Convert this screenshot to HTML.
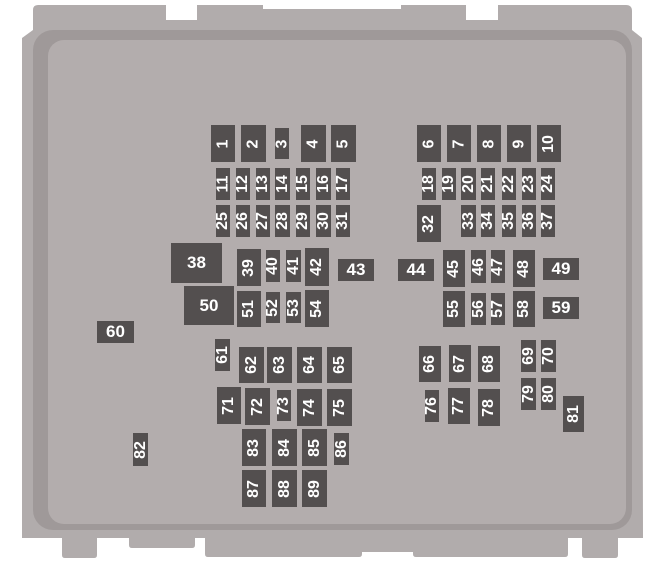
<!DOCTYPE html>
<html><head><style>
body{margin:0;background:#fff;width:659px;height:574px;overflow:hidden;position:relative;font-family:"Liberation Sans",sans-serif}
.f{position:absolute;background:#534f4f;color:#fff;font-weight:bold;font-size:16px;display:flex;align-items:center;justify-content:center}
.f span{display:block;transform:rotate(-90deg);white-space:nowrap}
.h span{transform:none;font-size:17px}
</style></head><body>
<svg width="659" height="574" style="position:absolute;left:0;top:0">
<path fill="#b1acac" d="M38,5 L166,5 L166,20 L197,20 L197,5 L263,5 L263,9 L401,9 L401,5 L466,5 L466,20 L498,20 L498,5 L626,5 Q632,5 632,11 L632,30 L642,38 L643,538 L22,538 L22,38 L33,30 L33,10 Q33,5 38,5 Z"/>
<path fill="#b1acac" d="M62,535 L97,535 L97,555 Q97,558 94,558 L65,558 Q62,558 62,555 Z M129,535 L195,535 L195,545 Q195,548 192,548 L132,548 Q129,548 129,545 Z M205,535 L362,535 L362,554 Q362,557 359,557 L208,557 Q205,557 205,554 Z M362,535 L413,535 L413,552 L362,552 Z M413,535 L568,535 L568,554 Q568,557 565,557 L416,557 Q413,557 413,554 Z M582,535 L618,535 L618,555 Q618,558 615,558 L585,558 Q582,558 582,555 Z"/>
<rect x="33" y="30" width="599" height="500" rx="20" fill="#9f9999"/>
<rect x="48" y="40" width="578" height="484" rx="16" fill="#b3adad"/>
</svg>
<div class="f" style="left:211px;top:125px;width:24px;height:37px"><span>1</span></div>
<div class="f" style="left:241px;top:125px;width:25px;height:37px"><span>2</span></div>
<div class="f" style="left:275px;top:128px;width:14px;height:31px"><span>3</span></div>
<div class="f" style="left:301px;top:125px;width:25px;height:37px"><span>4</span></div>
<div class="f" style="left:331px;top:125px;width:25px;height:37px"><span>5</span></div>
<div class="f" style="left:216px;top:168px;width:14px;height:32px"><span>11</span></div>
<div class="f" style="left:236px;top:168px;width:14px;height:32px"><span>12</span></div>
<div class="f" style="left:256px;top:168px;width:14px;height:32px"><span>13</span></div>
<div class="f" style="left:275px;top:168px;width:15px;height:32px"><span>14</span></div>
<div class="f" style="left:296px;top:168px;width:14px;height:32px"><span>15</span></div>
<div class="f" style="left:316px;top:168px;width:15px;height:32px"><span>16</span></div>
<div class="f" style="left:336px;top:168px;width:14px;height:32px"><span>17</span></div>
<div class="f" style="left:216px;top:205px;width:14px;height:32px"><span>25</span></div>
<div class="f" style="left:236px;top:205px;width:14px;height:32px"><span>26</span></div>
<div class="f" style="left:256px;top:205px;width:14px;height:32px"><span>27</span></div>
<div class="f" style="left:275px;top:205px;width:15px;height:32px"><span>28</span></div>
<div class="f" style="left:296px;top:205px;width:14px;height:32px"><span>29</span></div>
<div class="f" style="left:316px;top:205px;width:15px;height:32px"><span>30</span></div>
<div class="f" style="left:336px;top:205px;width:14px;height:32px"><span>31</span></div>
<div class="f h" style="left:171px;top:243px;width:51px;height:40px"><span>38</span></div>
<div class="f" style="left:237px;top:249px;width:24px;height:37px"><span>39</span></div>
<div class="f" style="left:266px;top:250px;width:14px;height:32px"><span>40</span></div>
<div class="f" style="left:286px;top:250px;width:15px;height:32px"><span>41</span></div>
<div class="f" style="left:305px;top:248px;width:24px;height:38px"><span>42</span></div>
<div class="f h" style="left:338px;top:259px;width:36px;height:22px"><span>43</span></div>
<div class="f h" style="left:184px;top:286px;width:50px;height:39px"><span>50</span></div>
<div class="f" style="left:237px;top:291px;width:24px;height:36px"><span>51</span></div>
<div class="f" style="left:266px;top:292px;width:14px;height:31px"><span>52</span></div>
<div class="f" style="left:286px;top:292px;width:15px;height:31px"><span>53</span></div>
<div class="f" style="left:305px;top:290px;width:24px;height:37px"><span>54</span></div>
<div class="f" style="left:417px;top:125px;width:24px;height:37px"><span>6</span></div>
<div class="f" style="left:447px;top:125px;width:24px;height:37px"><span>7</span></div>
<div class="f" style="left:477px;top:125px;width:24px;height:37px"><span>8</span></div>
<div class="f" style="left:507px;top:125px;width:24px;height:37px"><span>9</span></div>
<div class="f" style="left:537px;top:125px;width:24px;height:37px"><span>10</span></div>
<div class="f" style="left:422px;top:168px;width:14px;height:32px"><span>18</span></div>
<div class="f" style="left:442px;top:168px;width:14px;height:32px"><span>19</span></div>
<div class="f" style="left:461px;top:168px;width:15px;height:32px"><span>20</span></div>
<div class="f" style="left:481px;top:168px;width:14px;height:32px"><span>21</span></div>
<div class="f" style="left:502px;top:168px;width:14px;height:32px"><span>22</span></div>
<div class="f" style="left:522px;top:168px;width:14px;height:32px"><span>23</span></div>
<div class="f" style="left:541px;top:168px;width:14px;height:32px"><span>24</span></div>
<div class="f" style="left:417px;top:205px;width:24px;height:37px"><span>32</span></div>
<div class="f" style="left:461px;top:205px;width:15px;height:32px"><span>33</span></div>
<div class="f" style="left:481px;top:205px;width:14px;height:32px"><span>34</span></div>
<div class="f" style="left:502px;top:205px;width:14px;height:32px"><span>35</span></div>
<div class="f" style="left:522px;top:205px;width:14px;height:32px"><span>36</span></div>
<div class="f" style="left:541px;top:205px;width:14px;height:32px"><span>37</span></div>
<div class="f h" style="left:398px;top:259px;width:36px;height:22px"><span>44</span></div>
<div class="f" style="left:443px;top:250px;width:22px;height:37px"><span>45</span></div>
<div class="f" style="left:471px;top:250px;width:15px;height:33px"><span>46</span></div>
<div class="f" style="left:491px;top:250px;width:14px;height:33px"><span>47</span></div>
<div class="f" style="left:513px;top:250px;width:22px;height:37px"><span>48</span></div>
<div class="f h" style="left:543px;top:258px;width:36px;height:22px"><span>49</span></div>
<div class="f" style="left:443px;top:291px;width:22px;height:36px"><span>55</span></div>
<div class="f" style="left:471px;top:293px;width:15px;height:32px"><span>56</span></div>
<div class="f" style="left:491px;top:293px;width:14px;height:32px"><span>57</span></div>
<div class="f" style="left:513px;top:291px;width:22px;height:36px"><span>58</span></div>
<div class="f h" style="left:543px;top:297px;width:36px;height:22px"><span>59</span></div>
<div class="f h" style="left:97px;top:321px;width:37px;height:22px"><span>60</span></div>
<div class="f" style="left:215px;top:339px;width:15px;height:32px"><span>61</span></div>
<div class="f" style="left:239px;top:347px;width:25px;height:36px"><span>62</span></div>
<div class="f" style="left:267px;top:347px;width:25px;height:36px"><span>63</span></div>
<div class="f" style="left:297px;top:347px;width:25px;height:36px"><span>64</span></div>
<div class="f" style="left:327px;top:347px;width:25px;height:36px"><span>65</span></div>
<div class="f" style="left:217px;top:387px;width:24px;height:37px"><span>71</span></div>
<div class="f" style="left:245px;top:388px;width:25px;height:37px"><span>72</span></div>
<div class="f" style="left:277px;top:390px;width:14px;height:31px"><span>73</span></div>
<div class="f" style="left:297px;top:389px;width:25px;height:37px"><span>74</span></div>
<div class="f" style="left:327px;top:389px;width:25px;height:37px"><span>75</span></div>
<div class="f" style="left:133px;top:433px;width:15px;height:33px"><span>82</span></div>
<div class="f" style="left:242px;top:429px;width:24px;height:37px"><span>83</span></div>
<div class="f" style="left:272px;top:429px;width:25px;height:37px"><span>84</span></div>
<div class="f" style="left:302px;top:429px;width:25px;height:37px"><span>85</span></div>
<div class="f" style="left:334px;top:433px;width:15px;height:32px"><span>86</span></div>
<div class="f" style="left:242px;top:470px;width:24px;height:37px"><span>87</span></div>
<div class="f" style="left:272px;top:470px;width:25px;height:37px"><span>88</span></div>
<div class="f" style="left:302px;top:470px;width:25px;height:37px"><span>89</span></div>
<div class="f" style="left:419px;top:346px;width:22px;height:36px"><span>66</span></div>
<div class="f" style="left:449px;top:345px;width:22px;height:37px"><span>67</span></div>
<div class="f" style="left:478px;top:346px;width:22px;height:36px"><span>68</span></div>
<div class="f" style="left:521px;top:340px;width:15px;height:32px"><span>69</span></div>
<div class="f" style="left:541px;top:340px;width:15px;height:32px"><span>70</span></div>
<div class="f" style="left:425px;top:390px;width:14px;height:32px"><span>76</span></div>
<div class="f" style="left:448px;top:388px;width:22px;height:36px"><span>77</span></div>
<div class="f" style="left:478px;top:389px;width:22px;height:37px"><span>78</span></div>
<div class="f" style="left:521px;top:378px;width:15px;height:32px"><span>79</span></div>
<div class="f" style="left:541px;top:378px;width:15px;height:32px"><span>80</span></div>
<div class="f" style="left:563px;top:396px;width:21px;height:36px"><span>81</span></div>
</body></html>
